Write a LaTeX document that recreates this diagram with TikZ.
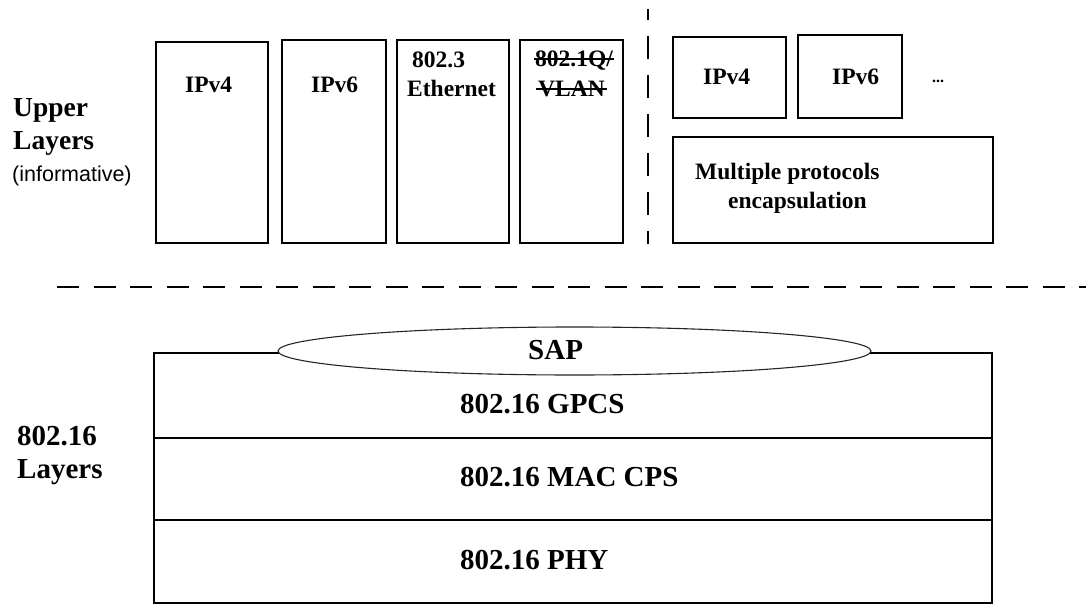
\documentclass[tikz,border=0pt]{standalone}
\usepackage{fontspec}
\setmainfont{Liberation Serif}
\newfontfamily\arialfont{Liberation Sans}
\usetikzlibrary{calc,shapes.geometric}
\tikzset{
  box/.style={draw=black, line width=1.5pt, inner sep=0pt, fill=none},
  txt/.style={inner sep=0pt, anchor=base west, font=\bfseries\fontsize{23.5}{26}\selectfont},
  bigtxt/.style={inner sep=0pt, anchor=base west, font=\bfseries\fontsize{29}{32}\selectfont},
  sidetxt/.style={inner sep=0pt, anchor=base west, font=\bfseries\fontsize{27.5}{30}\selectfont},
  sep/.style={line width=2pt, dash pattern=on 22pt off 14.5pt},
  vsep/.style={line width=2pt, dash pattern=on 23pt off 16pt, dash phase=12pt},
  strike/.style={line width=1.3pt}
}
\begin{document}
\begin{tikzpicture}[x=1pt,y=-1pt]
\useasboundingbox (0,0) rectangle (1086,604);
% upper left boxes
\draw[box] (156,42) rectangle (268,243);
\draw[box] (282,40) rectangle (386,243);
\draw[box] (397,40) rectangle (509,243);
\draw[box] (520,40) rectangle (623,243);
\node[txt] (t1) at (185,93) {IPv4};
\node[txt] (t2) at (311,93) {IPv6};
\node[txt] (t3) at (412,68) {802.3};
\node[txt] (t4) at (407,97) {Ethernet};
\node[txt] (q1) at (535,67) {802.1Q/};
\node[txt] (q2) at (538,97) {VLAN};
\draw[strike] ($(q1.base west)+(-1,-8)$) -- ($(q1.base east)+(1,-8)$);
\draw[strike] ($(q2.base west)+(-2,-8)$) -- ($(q2.base east)+(2,-8)$);
% vertical separator
\coordinate (vs1) at (648,9);
\coordinate (vs2) at (648,244);
\draw[vsep] (vs1) -- (vs2);
% upper right boxes
\draw[box] (673,37) rectangle (786,118);
\draw[box] (798,35) rectangle (902,118);
\draw[box] (673,137) rectangle (993,243);
\node[txt] (r1) at (703,85) {IPv4};
\node[txt] (r2) at (832,85) {IPv6};
\node[inner sep=0pt, anchor=base west, font=\bfseries\fontsize{16}{18}\selectfont] (dots) at (932,83) {...};
\node[txt] (m1) at (695,180) {Multiple protocols};
\node[txt] (m2) at (728,208) {encapsulation};
% side label upper
\node[sidetxt] (u1) at (13,117) {Upper};
\node[sidetxt] (u2) at (13,150) {Layers};
\node[inner sep=0pt, anchor=base west, font=\arialfont\fontsize{21.5}{24}\selectfont] (u3) at (12,182) {(informative)};
% horizontal separator
\coordinate (hs1) at (57,287);
\coordinate (hs2) at (1086,287);
\draw[sep] (hs1) -- (hs2);
% lower stack
\draw[box] (154,353) rectangle (992,603);
\draw[box] (154,438) -- (992,438);
\draw[box] (154,520) -- (992,520);
\node[draw=black!85, line width=1.1pt, fill=white, ellipse, inner sep=0pt, minimum width=593pt, minimum height=48pt] (sap) at (574.5,351) {};
\node[bigtxt] (s1) at (528,359) {SAP};
\node[bigtxt] (g1) at (460,413) {802.16 GPCS};
\node[bigtxt] (g2) at (460,486) {802.16 MAC CPS};
\node[bigtxt] (g3) at (460,569) {802.16 PHY};
% side label lower
\node[bigtxt] (l1) at (17,445) {802.16};
\node[bigtxt] (l2) at (17,478) {Layers};
\end{tikzpicture}
\end{document}
